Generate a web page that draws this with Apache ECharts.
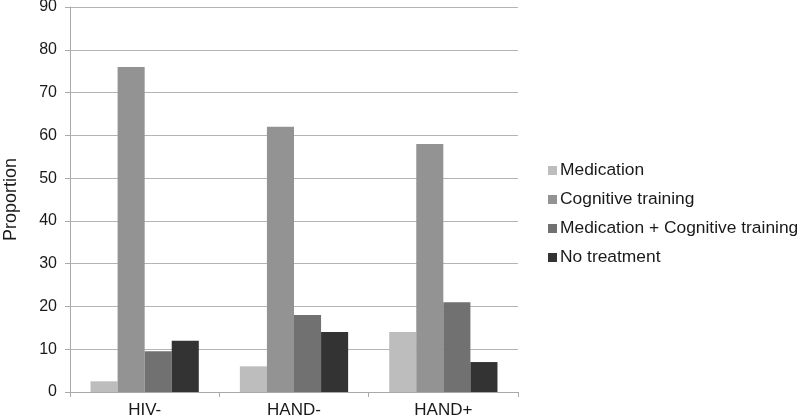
<!DOCTYPE html>
<html>
<head>
<meta charset="utf-8">
<script src="https://cdn.jsdelivr.net/npm/echarts@6/dist/echarts.min.js"></script>
<style>
  html, body { margin: 0; padding: 0; background: #fff; }
  #chart { width: 800px; height: 420px; }
</style>
</head>
<body>
<div id="chart"></div>
<script>
var categories = ['HIV-', 'HAND-', 'HAND+'];
var medication = [2.5, 6, 14];
var cognitive = [76, 62, 58];
var medCognitive = [9.5, 18, 21];
var noTreatment = [12, 14, 7];
var yTicks = [0, 90, 10]; // min, max, interval

var chart = echarts.init(document.getElementById('chart'), null, { renderer: 'canvas' });

var font = 'Liberation Sans, Arial, sans-serif';
var barStyle = function (name, data, color) {
  return {
    name: name,
    type: 'bar',
    data: data,
    itemStyle: { color: color },
    barGap: '0%',
    barCategoryGap: '27.5%'
  };
};

var option = {
  animation: false,
  backgroundColor: '#ffffff',
  grid: { left: 70, top: 7, right: 282, bottom: 28, containLabel: false, outerBoundsMode: 'none' },
  legend: {
    orient: 'vertical',
    left: 543,
    top: 157,
    itemWidth: 9,
    itemHeight: 9,
    itemGap: 12,
    icon: 'rect',
    textStyle: { fontFamily: font, fontSize: 17.4, color: '#1a1a1a', padding: [0, 0, 0, -2] },
    data: ['Medication', 'Cognitive training', 'Medication + Cognitive training', 'No treatment']
  },
  xAxis: {
    type: 'category',
    data: categories,
    axisLine: { lineStyle: { color: '#aaaaaa', width: 1 } },
    axisTick: { show: true, length: 5, lineStyle: { color: '#aaaaaa' } },
    axisLabel: { fontFamily: font, fontSize: 17, color: '#1a1a1a', margin: 10 }
  },
  yAxis: {
    type: 'value',
    min: yTicks[0],
    max: yTicks[1],
    interval: yTicks[2],
    name: 'Proportion',
    nameLocation: 'middle',
    nameGap: 50,
    nameRotate: 90,
    nameTextStyle: { fontFamily: font, fontSize: 18, color: '#1a1a1a' },
    axisLine: { show: true, lineStyle: { color: '#aaaaaa', width: 1 } },
    axisTick: { show: true, length: 5, lineStyle: { color: '#aaaaaa' } },
    axisLabel: { fontFamily: font, fontSize: 16, color: '#1a1a1a', margin: 13 },
    splitLine: { lineStyle: { color: '#b4b4b4', width: 1 } }
  },
  series: [
    barStyle('Medication', medication, '#bdbdbd'),
    barStyle('Cognitive training', cognitive, '#939393'),
    barStyle('Medication + Cognitive training', medCognitive, '#717171'),
    barStyle('No treatment', noTreatment, '#333333')
  ]
};

chart.setOption(option);
</script>
</body>
</html>
